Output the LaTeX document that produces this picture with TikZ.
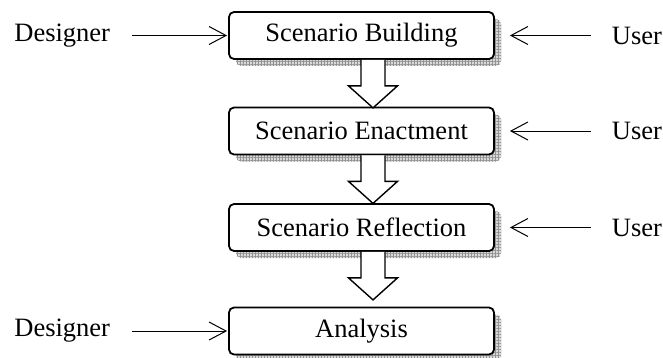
\documentclass[tikz,border=0pt]{standalone}
\usepackage{fontspec}
\setmainfont{Liberation Serif}
\usetikzlibrary{arrows.meta,shadows,patterns.meta,calc,positioning}

\begin{document}
\begin{tikzpicture}[x=0.5pt, y=-0.5pt, font=\fontsize{13.25}{15}\selectfont,
  stage/.style={draw, line width=0.9pt, rounded corners=2.5pt, fill=white,
    minimum width=132.5pt, minimum height=23.5pt, inner sep=0pt,
    general shadow={fill=gray!30, shadow xshift=3.5pt, shadow yshift=-3.5pt},
    general shadow={pattern={Hatch[distance=1.5pt, angle=0, line width=0.25pt]}, pattern color=gray!85, shadow xshift=3.5pt, shadow yshift=-3.5pt}},
  feed/.style={-{Straight Barb[length=8.5pt, width=9pt]}, line width=0.5pt},
  flow/.style={draw, fill=white, line width=0.7pt, line join=miter}]
\useasboundingbox (0,0) rectangle (663,358);
% stages
\node[stage] (build) at (361.5,35.5) {Scenario Building};
\node[stage] (enact) at (361.5,131) {Scenario Enactment};
\node[stage] (refl) at (361.5,227.5) {Scenario Reflection};
\node[stage] (anal) at (361.5,331) {Analysis};
% block arrows between stages
\foreach \a in {build, enact, refl} {
  \draw[flow] ($(\a.south)+(-0.5,0)$) -- ++(0,26) -- ++(-12.5,0) -- ++(24.5,22) -- ++(24.5,-22) -- ++(-12.5,0) -- ++(0,-26);
}
% actors
\node[left=55.5pt of build] (des1) {Designer};
\node[left=55.5pt of anal] (des2) {Designer};
\node[right=55pt of build] (usr1) {User};
\node[right=55pt of enact] (usr2) {User};
\node[right=55pt of refl] (usr3) {User};
\draw[feed, shorten <=7.5pt, shorten >=0.5pt] (des1) -- (build);
\draw[feed, shorten <=7.5pt, shorten >=0.5pt] (des2) -- (anal);
\foreach \u/\s in {usr1/build, usr2/enact, usr3/refl} {
  \draw[feed, shorten <=7pt, shorten >=7.5pt] (\u) -- (\s);
}
\end{tikzpicture}
\end{document}
